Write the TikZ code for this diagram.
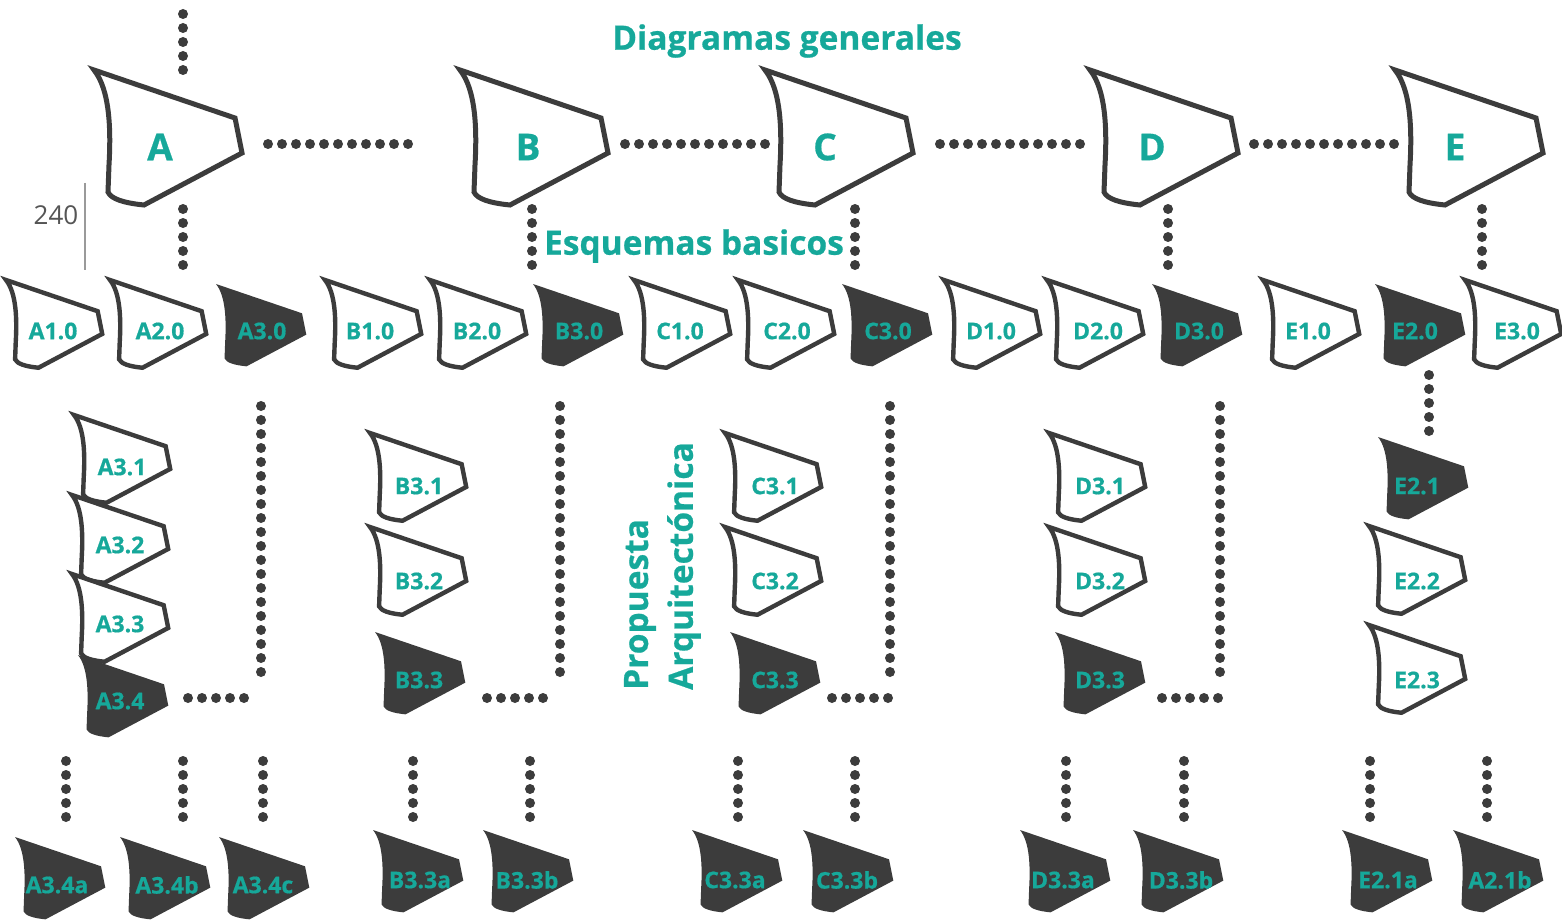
\documentclass[tikz,border=0pt]{standalone}
\usepackage{fontspec}
\setmainfont{Open Sans}[BoldFeatures={FakeBold=0.6}]
\definecolor{teal1}{HTML}{16A89A}
\definecolor{dark}{HTML}{3C3C3C}
\definecolor{gline}{HTML}{9A9A9A}
\definecolor{gtext}{HTML}{555555}
\tikzset{
  outl/.style={draw=dark, fill=white, line width=4.4pt, line join=miter},
  outlbig/.style={draw=dark, fill=white, line width=5pt, line join=miter},
  solid/.style={fill=dark},
  lbl/.style={text=teal1, font=\bfseries\fontsize{23}{25}\selectfont, inner sep=0pt},
  biglbl/.style={text=teal1, font=\bfseries\fontsize{37}{40}\selectfont, inner sep=0pt},
  ttl/.style={text=teal1, font=\bfseries\fontsize{33.5}{36}\selectfont, inner sep=0pt},
  dotline/.style={draw=dark, line width=10pt, line cap=round, dash pattern=on 0pt off 14pt},
}
\newcommand\myshape[6]{%
  \path[#4, shift={(#2)}, scale=#3] (0,0) -- (141,48) -- (148,83) -- (50,135)
     .. controls (30,133) and (17,129) .. (14,122) -- (15,95)
     .. controls (17,60) and (16,20) .. (0,0) -- cycle;
  \node[#5] (#1) at (#6) {\myshapetext};}
\newcommand\myshapetext{}
\newcommand\mk[7]{\renewcommand\myshapetext{#7}\myshape{#1}{#2}{#3}{#4}{#5}{#6}}
\begin{document}
\begin{tikzpicture}[x=1pt,y=-1pt]
\useasboundingbox (0,0) rectangle (1562,920);
% titles
\node[ttl] (t1) at (787,41) {Diagramas generales};
\node[ttl] (t2) at (694,246) {Esquemas basicos};
\node[ttl, rotate=90, anchor=west] (t3) at (640,690) {Propuesta};
\node[ttl, rotate=90, anchor=west] (t4) at (684,690) {Arquitectónica};
% scale marker
\coordinate (s1) at (85,183); \coordinate (s2) at (85,270);
\draw[gline, line width=2pt] (s1) -- (s2);
\node[text=gtext, font=\fontsize{26}{28}\selectfont, inner sep=0pt] (n240) at (56,215) {240};
% big shapes
\mk{A}{94,70}{1}{outlbig}{biglbl}{160,147}{A}
\mk{B}{460,70}{1}{outlbig}{biglbl}{528,147}{B}
\mk{C}{765,70}{1}{outlbig}{biglbl}{825,147}{C}
\mk{D}{1090,70}{1}{outlbig}{biglbl}{1152,147}{D}
\mk{E}{1395,70}{1}{outlbig}{biglbl}{1455,147}{E}
% row 2
\mk{a10}{6,280}{0.65}{outl}{lbl}{53,331}{A1.0}
\mk{a20}{110,280}{0.65}{outl}{lbl}{160,331}{A2.0}
\mk{a30}{216,284}{0.61}{solid}{lbl}{262,331}{A3.0}
\mk{b10}{325,280}{0.65}{outl}{lbl}{370,331}{B1.0}
\mk{b20}{430,280}{0.65}{outl}{lbl}{477,331}{B2.0}
\mk{b30}{533,284}{0.61}{solid}{lbl}{579,331}{B3.0}
\mk{c10}{634,280}{0.65}{outl}{lbl}{680,331}{C1.0}
\mk{c20}{738,280}{0.65}{outl}{lbl}{787,331}{C2.0}
\mk{c30}{842,284}{0.61}{solid}{lbl}{888,331}{C3.0}
\mk{d10}{944,280}{0.65}{outl}{lbl}{991,331}{D1.0}
\mk{d20}{1047,280}{0.65}{outl}{lbl}{1098,331}{D2.0}
\mk{d30}{1152,284}{0.61}{solid}{lbl}{1199,331}{D3.0}
\mk{e10}{1263,280}{0.65}{outl}{lbl}{1308,331}{E1.0}
\mk{e20}{1375,284}{0.61}{solid}{lbl}{1415,331}{E2.0}
\mk{e30}{1465,280}{0.65}{outl}{lbl}{1517,331}{E3.0}
% columns
\mk{a31}{74,415}{0.65}{outl}{lbl}{122,467}{A3.1}
\mk{a32}{72,495}{0.65}{outl}{lbl}{120,545}{A3.2}
\mk{a33}{72,574}{0.65}{outl}{lbl}{120,624}{A3.3}
\mk{a34}{78,655}{0.61}{solid}{lbl}{120,701}{A3.4}
\mk{b31}{370,433}{0.65}{outl}{lbl}{419,486}{B3.1}
\mk{b32}{370,527}{0.65}{outl}{lbl}{419,581}{B3.2}
\mk{b33}{375,632}{0.61}{solid}{lbl}{419,680}{B3.3}
\mk{c31}{725,433}{0.65}{outl}{lbl}{775,486}{C3.1}
\mk{c32}{725,527}{0.65}{outl}{lbl}{775,581}{C3.2}
\mk{c33}{730,632}{0.61}{solid}{lbl}{775,680}{C3.3}
\mk{d31}{1049,433}{0.65}{outl}{lbl}{1100,486}{D3.1}
\mk{d32}{1049,527}{0.65}{outl}{lbl}{1100,581}{D3.2}
\mk{d33}{1055,632}{0.61}{solid}{lbl}{1100,680}{D3.3}
\mk{e21}{1378,437}{0.61}{solid}{lbl}{1417,486}{E2.1}
\mk{e22}{1369,526}{0.65}{outl}{lbl}{1417,581}{E2.2}
\mk{e23}{1369,625}{0.65}{outl}{lbl}{1417,680}{E2.3}
% bottom
\mk{a34a}{15,837}{0.61}{solid}{lbl}{57,885}{A3.4a}
\mk{a34b}{120,837}{0.61}{solid}{lbl}{167,885}{A3.4b}
\mk{a34c}{219,837}{0.61}{solid}{lbl}{263,885}{A3.4c}
\mk{b33a}{373,830}{0.61}{solid}{lbl}{420,880}{B3.3a}
\mk{b33b}{483,830}{0.61}{solid}{lbl}{527,880}{B3.3b}
\mk{c33a}{692,830}{0.61}{solid}{lbl}{735,880}{C3.3a}
\mk{c33b}{803,830}{0.61}{solid}{lbl}{847,880}{C3.3b}
\mk{d33a}{1020,830}{0.61}{solid}{lbl}{1063,880}{D3.3a}
\mk{d33b}{1133,830}{0.61}{solid}{lbl}{1181,880}{D3.3b}
\mk{e21a}{1342,830}{0.61}{solid}{lbl}{1388,880}{E2.1a}
\mk{a21b}{1453,830}{0.61}{solid}{lbl}{1500,880}{A2.1b}
% dotted connectors: top
\coordinate (top1) at (183,14); \coordinate (top2) at (183,71);
\draw[dotline] (top1) -- (top2);
\foreach \p/\q in {268/409, 625/766, 940/1081, 1254/1395}{
  \coordinate (h1) at (\p,144); \coordinate (h2) at (\q,144);
  \draw[dotline] (h1) -- (h2);}
\foreach \x in {183,532,855,1168,1482}{
  \coordinate (v1) at (\x,209); \coordinate (v2) at (\x,266);
  \draw[dotline] (v1) -- (v2);}
\foreach \x in {261,560,890,1220}{
  \coordinate (w1) at (\x,406); \coordinate (w2) at (\x,673);
  \draw[dotline] (w1) -- (w2);}
\foreach \p in {188,487,832,1162}{
  \coordinate (k1) at (\p,698); \coordinate (k2) at (\p+57,698);
  \draw[dotline] (k1) -- (k2);}
\coordinate (ev1) at (1429,375); \coordinate (ev2) at (1429,432);
\draw[dotline] (ev1) -- (ev2);
\foreach \x in {66,183,263,413,530,738,855,1066,1184,1370,1487}{
  \coordinate (u1) at (\x,761); \coordinate (u2) at (\x,818);
  \draw[dotline] (u1) -- (u2);}
\end{tikzpicture}
\end{document}
